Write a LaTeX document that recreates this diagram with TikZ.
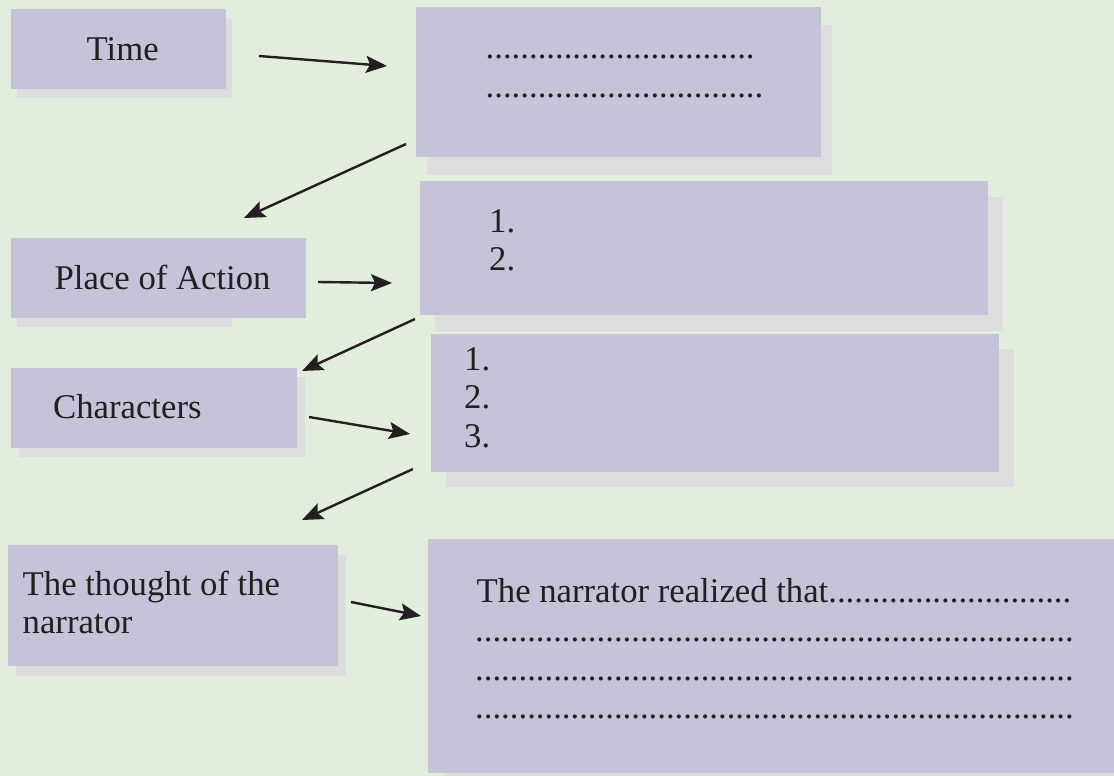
\documentclass[tikz,border=0pt]{standalone}
\usepackage{fontspec}
\setmainfont{Liberation Serif}
\usepackage{xcolor}
\usepackage{tikz}
\usetikzlibrary{shadows,arrows.meta}
\definecolor{bggreen}{HTML}{E2EEDC}
\definecolor{boxfill}{HTML}{C4C3D8}
\definecolor{shadowgray}{HTML}{DDDDDD}
\definecolor{ink}{HTML}{231F20}

\begin{document}
\begin{tikzpicture}[
        x=1pt, y=-1pt,
        box/.style={fill=boxfill, inner sep=0pt, anchor=north west},
        boxshadow/.style 2 args={drop shadow={shadow xshift=#1, shadow yshift=#2, fill=shadowgray, opacity=1}},
        txt/.style={anchor=base west, inner sep=0pt, text=ink, font=\fontsize{34.7}{38.5}\selectfont},
        arr/.style={-{Stealth[length=21pt, width=17pt, inset=4pt]}, line width=2.4pt, draw=ink, fill=ink}
      ]

      \useasboundingbox (0,0) rectangle (1114,776);
      \fill[bggreen] (0,0) rectangle (1114,776);
      \clip (0,0) rectangle (1114,776);

      % boxes
      \node[box, boxshadow={6pt}{-9pt}, minimum width=215pt, minimum height=80pt] (time) at (11,9) {};
      \node[box, boxshadow={11pt}{-18pt}, minimum width=405pt, minimum height=150pt] (timedots) at (416,7) {};
      \fill[shadowgray] (17,247) rectangle (232,327); % short shadow under place box
      \node[box, minimum width=295pt, minimum height=80pt] (place) at (11,238) {};
      \node[box, boxshadow={15pt}{-16pt}, minimum width=568pt, minimum height=134pt] (placelist) at (420,181) {};
      \node[box, boxshadow={8pt}{-9pt}, minimum width=286pt, minimum height=80pt] (chars) at (11,368) {};
      \node[box, boxshadow={15pt}{-15pt}, minimum width=568pt, minimum height=138pt] (charlist) at (431,334) {};
      \node[box, boxshadow={8pt}{-10pt}, minimum width=330pt, minimum height=121pt] (thought) at (8,545) {};
      \node[box, boxshadow={15pt}{-15pt}, minimum width=700pt, minimum height=234pt] (realized) at (428,539) {};

      % texts
      \node[txt] (timelbl) at (86.5,61) {Time};
      \node[txt] (timedots1) at (485.5,59) {...............................};
      \node[txt] (timedots2) at (485.5,97.5) {................................};
      \node[txt] (placelbl) at (54.5,289) {Place of Action};
      \node[txt] (place1) at (489,232) {1.};
      \node[txt] (place2) at (489,270.5) {2.};
      \node[txt] (charslbl) at (53,418.3) {Characters};
      \node[txt] (char1) at (464,370) {1.};
      \node[txt] (char2) at (464,408.5) {2.};
      \node[txt] (char3) at (464,447) {3.};
      \node[txt] (thought1) at (22.5,595.7) {The thought of the};
      \node[txt] (thought2) at (22.5,633.3) {narrator};
      \node[txt] (realized1) at (476.5,602.3) {The narrator realized that............................};
      \node[txt] (realized2) at (475,641) {.....................................................................};
      \node[txt] (realized3) at (475,680) {.....................................................................};
      \node[txt] (realized4) at (475,718) {.....................................................................};

      % arrow ends
      \coordinate (time-out) at (259,56);
      \coordinate (timedots-in) at (387,66);
      \coordinate (timedots-out) at (406,144);
      \coordinate (place-in) at (244,218);
      \coordinate (place-out) at (318,282);
      \coordinate (placelist-in) at (392,283);
      \coordinate (placelist-out) at (415,319);
      \coordinate (chars-in) at (302,371);
      \coordinate (chars-out) at (309,417);
      \coordinate (charlist-in) at (410,434);
      \coordinate (charlist-out) at (413,469);
      \coordinate (thought-in) at (302,520);
      \coordinate (thought-out) at (351,602);
      \coordinate (realized-in) at (421,616);

      \draw[arr] (time-out) -- (timedots-in);
      \draw[arr] (timedots-out) -- (place-in);
      \draw[arr] (place-out) -- (placelist-in);
      \draw[arr] (placelist-out) -- (chars-in);
      \draw[arr] (chars-out) -- (charlist-in);
      \draw[arr] (charlist-out) -- (thought-in);
      \draw[arr] (thought-out) -- (realized-in);

    \end{tikzpicture}
\end{document}
